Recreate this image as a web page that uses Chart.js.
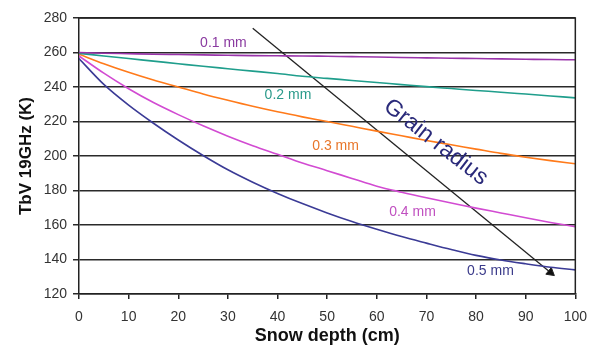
<!DOCTYPE html>
<html>
<head>
<meta charset="utf-8">
<title>TbV 19GHz vs snow depth</title>
<script src="https://cdn.jsdelivr.net/npm/chart.js@4.4.1/dist/chart.umd.min.js"></script>
<style>
  html, body { margin: 0; padding: 0; background: #fff; }
  #wrap { width: 597px; height: 351px; }
</style>
</head>
<body>
<div id="wrap"><canvas id="tbChart" width="597" height="351"></canvas></div>
<script>
// snow depth (cm) and modelled brightness temperature per grain radius
const depth = [0, 5, 10, 15, 20, 25, 30, 35, 40, 45, 50, 55, 60, 65, 70, 75, 80, 85, 90, 95, 100];
const tb01 = [260, 259.6, 259.3, 259, 258.8, 258.6, 258.4, 258.2, 258.1, 258, 257.8, 257.6, 257.4, 257.1, 256.9, 256.7, 256.5, 256.3, 256.1, 255.9, 255.8];
const tb02 = [259.5, 258, 256.5, 255, 253.5, 252, 250.6, 249.2, 247.8, 246.2, 245, 243.8, 242.6, 241.4, 240.2, 239.1, 238, 237, 235.9, 234.8, 233.7];
const tb03 = [259, 253.5, 248.5, 244, 240, 236, 232.3, 228.8, 225.6, 222.7, 220, 217.2, 214.4, 211.7, 209, 206.5, 204, 201.5, 199.3, 197.3, 195.5];
const tb04 = [258, 248, 239, 231, 224, 217.5, 211.5, 206, 201, 196, 191.5, 187, 182.5, 179, 175.8, 172.8, 169.8, 167, 164.2, 161.5, 159];
const tb05 = [256.5, 241.5, 229.5, 219, 209.3, 200.3, 192, 184.8, 178.3, 172.4, 167, 162, 157.5, 153.3, 149.5, 145.8, 142.4, 139.7, 137.5, 135.5, 134];

const radii = ['0.1 mm', '0.2 mm', '0.3 mm', '0.4 mm', '0.5 mm'];
const yTicks = [120, 140, 160, 180, 200, 220, 240, 260, 280];

// "Grain radius" arrow, start and end in data units
const arrowDepth = [35, 95];
const arrowTb = [274, 132.5];

const lineColors = ['#9933aa', '#1f9e8c', '#ff7a1a', '#d24bd2', '#3b3b96'];
const textColors = ['#8a3aa0', '#2a9a8a', '#e8762a', '#c050c0', '#3a3a8a'];
// where each curve name sits (data units)
const labelPos = [[29.1, 265.4], [42.1, 235.5], [51.7, 205.7], [67.2, 167.4], [82.9, 133.2]];

const FONT = "'Liberation Sans', Arial, sans-serif";

function series(values) {
    return depth.map((d, i) => ({ x: d, y: values[i] }));
}

const curves = [tb01, tb02, tb03, tb04, tb05].map((vals, i) => ({
    label: radii[i],
    data: series(vals),
    borderColor: lineColors[i],
    borderWidth: 1.6,
    pointRadius: 0,
    cubicInterpolationMode: 'monotone',
    fill: false
}));

const arrow = {
    label: 'Grain radius',
    data: arrowDepth.map((d, i) => ({ x: d, y: arrowTb[i] })),
    borderColor: '#222',
    backgroundColor: '#111',
    borderWidth: 1.3,
    pointStyle: 'triangle',
    pointRadius: [0, 5],
    pointBorderWidth: 1,
    pointRotation: (ctx) => {
        const c = ctx.chart;
        if (!c.scales || !c.scales.x) return 0;
        const dx = c.scales.x.getPixelForValue(arrowDepth[1]) - c.scales.x.getPixelForValue(arrowDepth[0]);
        const dy = c.scales.y.getPixelForValue(arrowTb[1]) - c.scales.y.getPixelForValue(arrowTb[0]);
        return Math.atan2(dy, dx) * 180 / Math.PI + 90;
    },
    fill: false
};

// frame round the plot plus the curve names
const plotDecor = {
    id: 'plotDecor',
    afterDatasetsDraw(chart) {
        const { ctx, chartArea: a, scales: { x, y } } = chart;
        ctx.save();
        ctx.strokeStyle = '#222';
        ctx.lineWidth = 1.5;
        ctx.beginPath();
        ctx.moveTo(a.left, a.top);
        ctx.lineTo(a.right, a.top);
        ctx.lineTo(a.right, a.bottom);
        ctx.stroke();

        ctx.font = '14px ' + FONT;
        ctx.textAlign = 'center';
        ctx.textBaseline = 'middle';
        labelPos.forEach((p, i) => {
            ctx.fillStyle = textColors[i];
            ctx.fillText(radii[i], x.getPixelForValue(p[0]), y.getPixelForValue(p[1]));
        });

        ctx.translate(x.getPixelForValue(71.9), y.getPixelForValue(208));
        ctx.rotate(38 * Math.PI / 180);
        ctx.font = '23px ' + FONT;
        ctx.fillStyle = '#2a2a7a';
        ctx.fillText('Grain radius', 0, 0);
        ctx.restore();
    }
};

new Chart(document.getElementById('tbChart'), {
    type: 'line',
    data: { datasets: [...curves, arrow] },
    options: {
        responsive: false,
        animation: false,
        layout: { padding: { top: 18, right: 20, left: 0, bottom: 0 } },
        plugins: {
            legend: { display: false },
            tooltip: { enabled: false }
        },
        scales: {
            x: {
                type: 'linear',
                min: 0,
                max: 100,
                afterFit: (s) => { s.height = 57; },
                ticks: { stepSize: 10, color: '#333', padding: 10, font: { family: FONT, size: 14 } },
                grid: { drawOnChartArea: false, drawTicks: true, tickLength: 5, color: '#222', lineWidth: 1.5 },
                border: { color: '#222', width: 1.5 },
                title: {
                    display: true,
                    text: 'Snow depth (cm)',
                    color: '#111',
                    padding: { top: 10 },
                    font: { family: FONT, size: 18, weight: 'bold' }
                }
            },
            y: {
                min: 120,
                max: 280,
                afterFit: (s) => { s.width = 79; },
                afterBuildTicks: (s) => { s.ticks = yTicks.map(v => ({ value: v })); },
                ticks: { color: '#333', padding: 6, font: { family: FONT, size: 14 } },
                grid: { color: '#2a2a2a', lineWidth: 1.5, tickLength: 6 },
                border: { color: '#222', width: 1.5 },
                title: {
                    display: true,
                    text: 'TbV 19GHz (K)',
                    color: '#111',
                    padding: { top: 16 },
                    font: { family: FONT, size: 17, weight: 'bold' }
                }
            }
        }
    },
    plugins: [plotDecor]
});
</script>
</body>
</html>
